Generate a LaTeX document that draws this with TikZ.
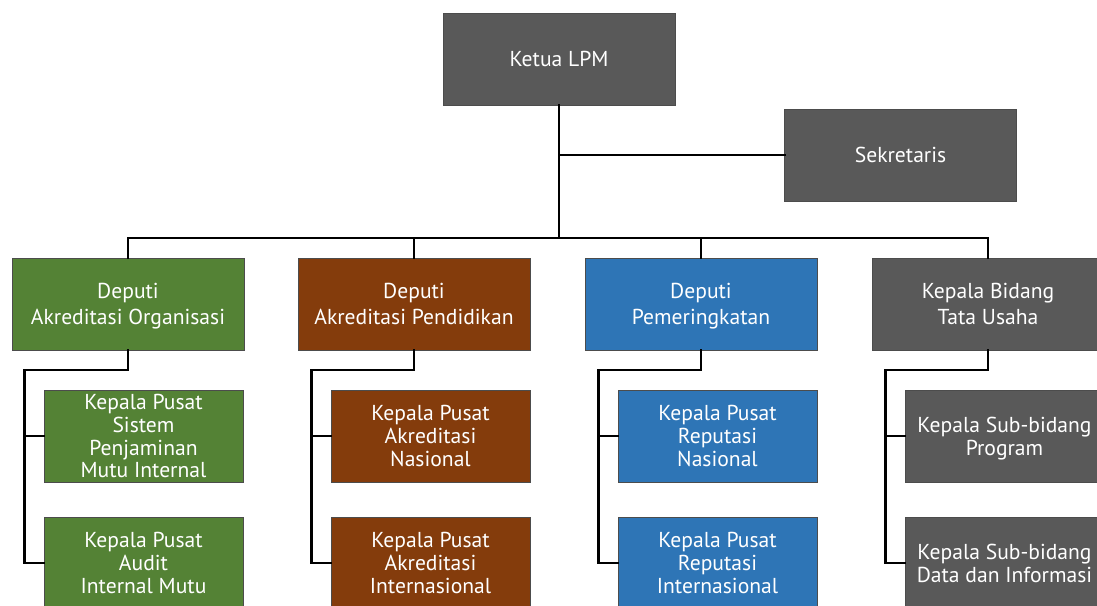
\documentclass[tikz,border=0pt]{standalone}
\usepackage{fontspec}
\setmainfont{PT Sans}
\usetikzlibrary{calc}
\definecolor{boxgray}{HTML}{595959}
\definecolor{boxgreen}{HTML}{548235}
\definecolor{boxbrown}{HTML}{843C0C}
\definecolor{boxblue}{HTML}{2E75B6}
\tikzset{
  unit/.style={draw=black!70, line width=0.8pt, text=white, align=center,
    inner sep=0pt, minimum height=92pt, text depth=0pt,
    font=\fontsize{21.6}{25.5}\selectfont},
  headbox/.style={unit, minimum width=232pt},
  subbox/.style={unit, minimum width=199pt, font=\fontsize{21.6}{22.8}\selectfont},
  link/.style={line width=2.8pt, line cap=rect},
}
\begin{document}
\begin{tikzpicture}[x=1pt, y=-1pt]
\useasboundingbox (0,0) rectangle (1097,605);
\clip (0,0) rectangle (1097,605);

% top level
\node[headbox, fill=boxgray] (ketua) at (559,59) {Ketua LPM};
\node[headbox, fill=boxgray] (sek) at (900.5,155) {Sekretaris};

% deputies and head of administration
\node[headbox, fill=boxgreen] (d1) at (128,304) {Deputi\\Akreditasi Organisasi};
\node[headbox, fill=boxbrown] (d2) at (414,304) {Deputi\\Akreditasi Pendidikan};
\node[headbox, fill=boxblue]  (d3) at (701,304) {Deputi\\Pemeringkatan};
\node[headbox, fill=boxgray]  (d4) at (988,304) {Kepala Bidang\\Tata Usaha};

% units below each deputy
\node[subbox, fill=boxgreen] (c11) at (143.5,436) {Kepala Pusat\\Sistem\\Penjaminan\\Mutu Internal};
\node[subbox, fill=boxgreen] (c12) at (143.5,563) {Kepala Pusat\\Audit\\Internal Mutu};
\node[subbox, fill=boxbrown] (c21) at (430.5,436) {Kepala Pusat\\Akreditasi\\Nasional};
\node[subbox, fill=boxbrown] (c22) at (430.5,563) {Kepala Pusat\\Akreditasi\\Internasional};
\node[subbox, fill=boxblue]  (c31) at (717.5,436) {Kepala Pusat\\Reputasi\\Nasional};
\node[subbox, fill=boxblue]  (c32) at (717.5,563) {Kepala Pusat\\Reputasi\\Internasional};
\node[subbox, fill=boxgray]  (c41) at (1004.5,436) {Kepala Sub-bidang\\Program};
\node[subbox, fill=boxgray]  (c42) at (1004.5,563) {Kepala Sub-bidang\\Data dan Informasi};

% trunk and bus
\coordinate (bus) at (559,238);
\draw[link] (ketua.south) -- (bus);
\draw[link] (sek.west) -- (sek.west -| ketua.south);
\draw[link] (d1.north) -- (d1.north |- bus) -| (d4.north);
\draw[link] (d2.north) -- (d2.north |- bus);
\draw[link] (d3.north) -- (d3.north |- bus);

% side trunks to the units
\foreach \p/\a/\b in {d1/c11/c12, d2/c21/c22, d3/c31/c32, d4/c41/c42} {
  \coordinate (turn) at ($(\a.west)+(-19,-66)$);
  \draw[link] (\p.south) |- (turn) -- (turn |- \b.west) -- (\b.west);
  \draw[link] (turn |- \a.west) -- (\a.west);
}
\end{tikzpicture}
\end{document}
